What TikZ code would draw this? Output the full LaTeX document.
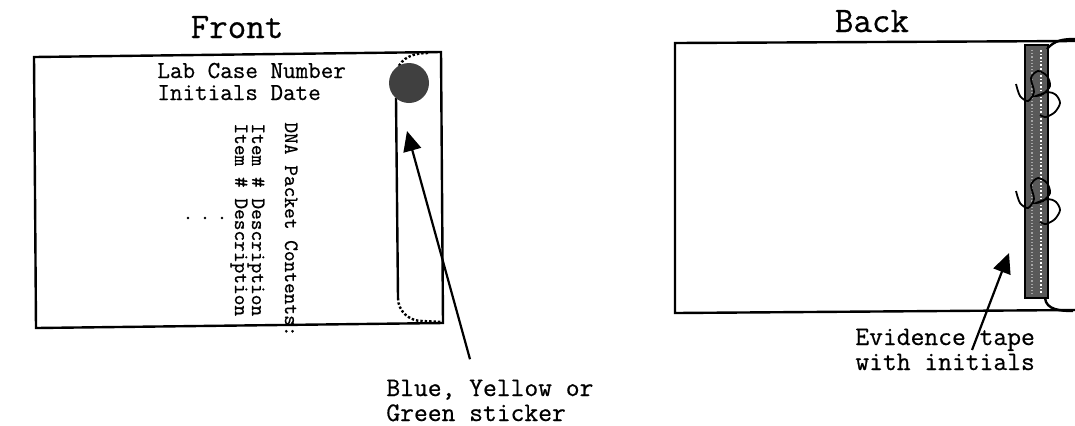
\documentclass[tikz,border=0pt]{standalone}
\usepackage{fontspec}
\newfontfamily\courfont{Latin Modern Mono}[FakeBold=0.6]
\usetikzlibrary{arrows.meta,calc}
\begin{document}
\begin{tikzpicture}[x=0.5pt,y=-0.5pt,
  edge/.style={line width=1.2pt},
  arr/.style={line width=1.1pt,-{Triangle[length=10pt,width=9pt]}},
  ttl/.style={inner sep=0pt,anchor=base,font=\courfont\fontsize{18}{20}\selectfont},
  hdr/.style={inner sep=0pt,anchor=base west,font=\courfont\fontsize{12.2}{14}\selectfont},
  lst/.style={inner sep=0pt,anchor=base west,rotate=-90,font=\courfont\fontsize{10.2}{12}\selectfont},
  note/.style={inner sep=0pt,anchor=base west,font=\courfont\fontsize{13.4}{16}\selectfont},
  sticker/.style={circle,fill=black!75,inner sep=0pt,minimum size=20pt}]
  \useasboundingbox (0,0) rectangle (1075,425);
  % front of the packet
  \node[ttl] (front) at (237,38) {Front};
  \draw[edge] (34,57) -- (441,52) -- (443,323) -- (36,328) -- cycle;
  \draw[edge,densely dotted] (428,53) to[out=180,in=70] (397,70);
  \draw[edge] (396,98) -- (398,298);
  \draw[edge,densely dotted] (398,298) to[out=-90,in=180] (422,321) -- (443,322);
  \node[sticker] (dot) at (409,83) {};
  \node[hdr] (case) at (157,78) {Lab Case Number};
  \node[hdr] (init) at (157,100) {Initials Date};
  \node[lst] (dna) at (285,122) {DNA Packet Contents:};
  \node[lst] (item1) at (252,123) {Item \# Description};
  \node[lst] (item2) at (235,123) {Item \# Description};
  \foreach \x in {188,205,222}
    \fill (\x,218) circle (1.3);
  \node[note] (blue) at (386,396) {Blue, Yellow or};
  \node[note] (green) at (386,421) {Green sticker};
  \coordinate (stktip) at (407,131);
  \draw[arr] ($(blue.north west)+(84,-20)$) -- (stktip);
  % back of the packet
  \node[ttl] (back) at (872,32) {Back};
  \draw[edge] (1075,41) -- (675,43) -- (675,313) -- (1075,310);
  \filldraw[fill=black!65,line width=0.6pt] (1025,45) rectangle (1048,298);
  \draw[white,densely dotted,line width=0.8pt] (1041,50) -- (1041,294);
  \draw[black!35,densely dotted,line width=0.6pt] (1032,50) -- (1032,294);
  \draw[edge] (1047,49) to[out=50,in=180] (1075,39);
  \draw[edge] (1045,298) to[out=-85,in=180] (1073,311);
  \foreach \dy in {0,107}
    \draw[line width=0.9pt,shift={(0,\dy)}] plot[smooth] coordinates
      {(1016,84) (1020,96) (1028,101) (1034,92) (1031,78) (1038,71) (1047,76)
       (1050,86) (1043,94) (1036,96) (1048,92) (1056,95) (1060,103) (1055,112)
       (1046,117) (1040,115)};
  \node[note] (evid) at (855,345) {Evidence tape};
  \node[note] (with) at (855,370) {with initials};
  \coordinate (tapetip) at (1009,253);
  \draw[arr] ($(evid.base west)+(117,5)$) -- (tapetip);
\end{tikzpicture}
\end{document}
